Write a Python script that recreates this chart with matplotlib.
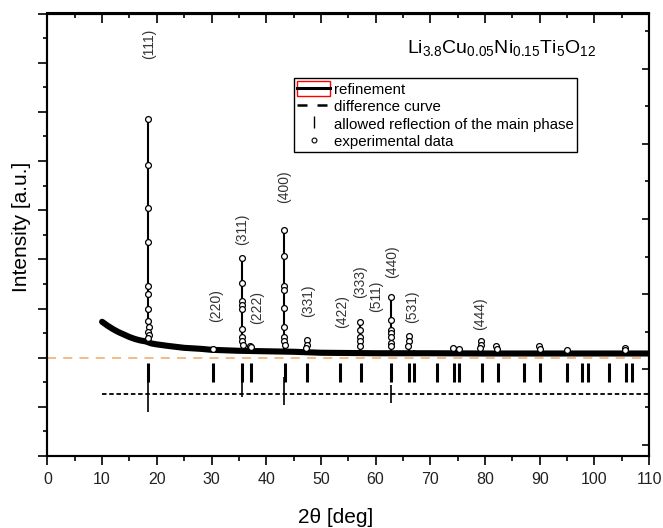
import matplotlib
matplotlib.use("Agg")
import matplotlib.pyplot as plt
from matplotlib.lines import Line2D
from matplotlib.patches import Patch
from matplotlib.legend_handler import HandlerTuple
from matplotlib.ticker import MultipleLocator, NullFormatter

plt.rcParams['font.family'] = ['Liberation Sans', 'DejaVu Sans']
plt.rcParams['mathtext.fontset'] = 'custom'
plt.rcParams['mathtext.rm'] = 'Liberation Sans'
plt.rcParams['mathtext.it'] = 'Liberation Sans'

# background of the measured pattern (thick band)
bg_2theta = [10, 11, 12, 13, 14, 15, 16, 17, 18, 19, 20, 22, 25, 28, 30, 35,
             40, 45, 50, 55, 60, 70, 80, 90, 100, 110]
bg_int = [0.73, 0.65, 0.58, 0.52, 0.47, 0.42, 0.38, 0.35, 0.33, 0.29, 0.27,
          0.24, 0.20, 0.18, 0.16, 0.14, 0.13, 0.12, 0.10, 0.095, 0.09, 0.09,
          0.085, 0.085, 0.085, 0.085]

# refinement peaks
peak_2theta = [18.45, 30.3, 35.63, 37.25, 43.28, 47.4, 53.6, 57.15, 62.8,
               66.05, 67.1, 74.2, 75.25, 79.2, 82.1, 89.95, 94.95, 105.6]
peak_base = [0.32, 0.16, 0.14, 0.14, 0.13, 0.12, 0.10, 0.095, 0.09,
             0.09, 0.09, 0.09, 0.09, 0.085, 0.085, 0.085, 0.085, 0.085]
peak_top = [4.86, 0.20, 2.02, 0.26, 2.60, 0.35, 0.12, 0.73, 1.24,
            0.45, 0.16, 0.20, 0.19, 0.33, 0.24, 0.23, 0.16, 0.20]

# experimental data points around the peaks
obs_2theta = [18.45, 18.45, 18.45, 18.45, 18.45, 18.45, 18.45, 18.4, 18.5, 18.35, 18.55, 18.4,
              35.63, 35.63, 35.63, 35.63, 35.63, 35.6, 35.65, 35.55, 35.7,
              37.0, 37.3,
              43.28, 43.28, 43.28, 43.28, 43.28, 43.25, 43.3, 43.2, 43.35,
              47.4, 47.4, 47.35,
              57.15, 57.15, 57.1, 57.2, 57.15,
              62.8, 62.8, 62.75, 62.85, 62.8, 62.75, 62.85,
              66.05, 66.05, 66.0,
              79.2, 79.2, 79.15,
              74.2, 75.2, 82.1, 82.15, 89.95, 90.0, 94.95, 105.6, 105.65, 30.3]
obs_int = [4.86, 3.92, 3.05, 2.35, 1.45, 1.29, 0.99, 0.75, 0.63, 0.53, 0.46, 0.40,
           2.02, 1.52, 1.16, 1.08, 0.99, 0.59, 0.43, 0.33, 0.26,
           0.24, 0.22,
           2.60, 2.06, 1.45, 1.38, 1.01, 0.63, 0.43, 0.33, 0.26,
           0.35, 0.26, 0.20,
           0.73, 0.57, 0.43, 0.33, 0.23,
           1.24, 0.76, 0.57, 0.50, 0.43, 0.30, 0.23,
           0.45, 0.33, 0.24,
           0.33, 0.26, 0.20,
           0.20, 0.18, 0.24, 0.18, 0.23, 0.17, 0.16, 0.20, 0.16, 0.18]

# difference curve: flat level plus spikes at the strong peaks
diff_2theta = [10, 110]
diff_int = [-0.74, -0.74]
spike_2theta = [18.45, 35.63, 43.28, 62.8]
spike_low = [-1.10, -0.80, -0.96, -0.92]
spike_high = [-0.40, -0.45, -0.40, -0.55]

# allowed reflections of the main phase
refl_2theta = [18.3, 30.3, 35.6, 37.3, 43.4, 47.4, 53.5, 57.3, 62.8, 66.1,
               67.1, 71.3, 74.3, 75.3, 79.4, 82.3, 87.1, 90.1, 95.0, 97.7,
               98.8, 102.7, 105.8, 106.8]

# Miller index labels
hkl_labels = ["(111)", "(220)", "(311)", "(222)", "(400)", "(331)", "(422)",
              "(333)", "(511)", "(440)", "(531)", "(444)"]
hkl_x = [18.57, 30.77, 35.63, 38.26, 43.31, 47.7, 53.8, 57.15, 60.07, 62.94, 66.6, 79.1]
hkl_y = [6.38, 1.05, 2.62, 1.03, 3.47, 1.16, 0.93, 1.54, 1.24, 1.95, 1.03, 0.89]


fig = plt.figure(figsize=(6.63, 5.28), dpi=100)
ax = fig.add_axes([47.4/663, 72/528, 601.7/663, 442.5/528])

ax.axhline(0, color="#f7b47a", lw=1.3, ls=(0, (5, 4)), zorder=1)

ax.plot(bg_2theta, bg_int, color="black", lw=4.4, solid_capstyle="round", zorder=3)
ax.vlines(peak_2theta, peak_base, peak_top, color="black", lw=1.5, zorder=3)
ax.plot(obs_2theta, obs_int, ls="none", marker="o", ms=4.2, mfc="white",
        mec="black", mew=0.9, zorder=4)
ax.plot(diff_2theta, diff_int, color="black", lw=1.3, ls=(0, (2.5, 1.5)), zorder=3)
ax.vlines(spike_2theta, spike_low, spike_high, color="black", lw=1.2, zorder=3)
ax.vlines(refl_2theta, -0.49, -0.11, color="black", lw=2.2, zorder=3)

for lab, x, y in zip(hkl_labels, hkl_x, hkl_y):
  ax.text(x, y, lab, rotation=90, ha="center", va="center", fontsize=10,
          color="#333333")

ax.text(0.597, 0.910, r"Li$_{3.8}$Cu$_{0.05}$Ni$_{0.15}$Ti$_{5}$O$_{12}$",
        transform=ax.transAxes, fontsize=14, ha="left", va="baseline")

ax.set_xlim(0, 110)
ax.set_ylim(-2, 7)
ax.xaxis.set_major_locator(MultipleLocator(10))
ax.xaxis.set_minor_locator(MultipleLocator(5))
ax.yaxis.set_major_locator(MultipleLocator(1))
ax.yaxis.set_minor_locator(MultipleLocator(0.5))
ax.yaxis.set_major_formatter(NullFormatter())
ax.tick_params(axis="x", which="major", direction="out", length=6.5, width=1.2,
               labelsize=11.5, labelcolor="#222222", pad=5)
ax.tick_params(axis="x", which="minor", direction="out", length=3.5, width=1.2)
ax.tick_params(axis="y", which="major", direction="out", length=6.8, width=1.2)
ax.tick_params(axis="y", which="minor", direction="out", length=3.2, width=1.2)
for sp in ax.spines.values():
  sp.set_linewidth(1.5)

top = ax.secondary_xaxis("top")
top.xaxis.set_major_locator(MultipleLocator(10))
top.xaxis.set_minor_locator(MultipleLocator(5))
top.xaxis.set_major_formatter(NullFormatter())
top.tick_params(which="major", direction="in", length=7, width=1.2)
top.tick_params(which="minor", direction="in", length=3.6, width=1.2)
top.spines["top"].set_linewidth(1.5)

ax2 = ax.twinx()
ax2.set_ylim(-0.303, 11.465)
ax2.yaxis.set_major_locator(MultipleLocator(2))
ax2.yaxis.set_minor_locator(MultipleLocator(1))
ax2.yaxis.set_major_formatter(NullFormatter())
ax2.tick_params(which="major", direction="in", length=5, width=1.2)
ax2.tick_params(which="minor", direction="in", length=3, width=1.2)
for sp in ax2.spines.values():
  sp.set_linewidth(1.5)

ax.set_xlabel("2θ [deg]", fontsize=15)
ax.xaxis.set_label_coords(0.479, -0.118)
ax.set_ylabel("Intensity [a.u.]", fontsize=15)
ax.yaxis.set_label_coords(-0.028, 0.517)

ref_box = Patch(facecolor="none", edgecolor="red", lw=1.0)
ref_line = Line2D([], [], color="black", lw=2.2)
handles = [
  (ref_box, ref_line),
  Line2D([], [], color="black", lw=1.8, ls=(0, (4, 4, 4, 4, 1, 2))),
  Line2D([], [], color="black", ls="none", marker="|", ms=9, mew=1.0),
  Line2D([], [], color="black", ls="none", marker="o", ms=3.5, mfc="white", mew=0.8),
]
labels = ["refinement", "difference curve", "allowed reflection of the main phase",
          "experimental data"]
leg = ax.legend(handles, labels, loc="upper left", bbox_to_anchor=(0.41, 0.854),
                borderaxespad=0, fontsize=10.8, frameon=True, fancybox=False,
                framealpha=1, edgecolor="black", handlelength=2.2,
                handleheight=1.1, labelspacing=0.14, handletextpad=0.25,
                borderpad=0.22, handler_map={tuple: HandlerTuple(ndivide=1)})
leg.get_frame().set_linewidth(1.0)

fig.savefig("out.png", dpi=100)
